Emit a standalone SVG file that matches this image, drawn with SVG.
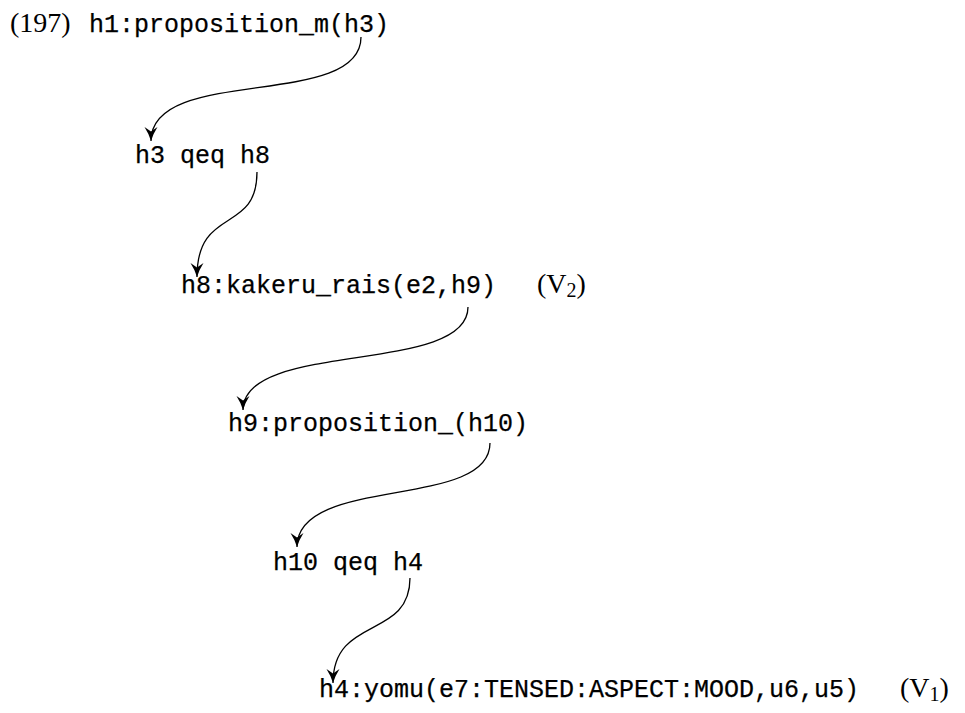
<svg xmlns="http://www.w3.org/2000/svg" width="965" height="713" viewBox="0 0 965 713">
<style>
.tt{font-family:"Liberation Mono","Courier New",monospace;font-size:25px;fill:#000;stroke:#000;stroke-width:0.25}
.rm{font-family:"Liberation Serif","Times New Roman",serif;font-size:28px;fill:#000}
.sub{font-size:20px}
.edge{fill:none;stroke:#000;stroke-width:1.3}
</style>
<defs>
<marker id="arr" markerUnits="userSpaceOnUse" markerWidth="20" markerHeight="20" viewBox="-16 -10 20 20" refX="0" refY="0" orient="auto">
<path d="M0,0 Q-7,-2 -14,-6.5 L-9.5,0 L-14,6.5 Q-7,2 0,0 Z" fill="#000"/>
</marker>
</defs>
<rect width="965" height="713" fill="#fff"/>
<g id="n0">
<text class="rm" x="10" y="32">(197)</text>
<text class="tt" x="89" y="32">h1:proposition_m(h3)</text>
</g>
<g id="n1"><text class="tt" x="135" y="163">h3 qeq h8</text></g>
<g id="n2">
<text class="tt" x="181" y="293">h8:kakeru_rais(e2,h9)</text>
<text class="rm" x="537" y="293">(V<tspan class="sub" dy="4">2</tspan><tspan dy="-4">)</tspan></text>
</g>
<g id="n3"><text class="tt" x="228" y="431">h9:proposition_(h10)</text></g>
<g id="n4"><text class="tt" x="273" y="570">h10 qeq h4</text></g>
<g id="n5">
<text class="tt" x="319" y="697">h4:yomu(e7:TENSED:ASPECT:MOOD,u6,u5)</text>
<text class="rm" x="900" y="697">(V<tspan class="sub" dy="4">1</tspan><tspan dy="-4">)</tspan></text>
</g>
<g id="edges">
<path class="edge" marker-end="url(#arr)" d="M361,37 C361,110 151,65 151,141"/>
<path class="edge" marker-end="url(#arr)" d="M257,172 C257,235 197,205 197,277"/>
<path class="edge" marker-end="url(#arr)" d="M468,307 C468,375 243,340 243,410"/>
<path class="edge" marker-end="url(#arr)" d="M490,443 C490,510 297,475 297,547"/>
<path class="edge" marker-end="url(#arr)" d="M410,578 C410,640 333,615 333,683"/>
</g>
</svg>
